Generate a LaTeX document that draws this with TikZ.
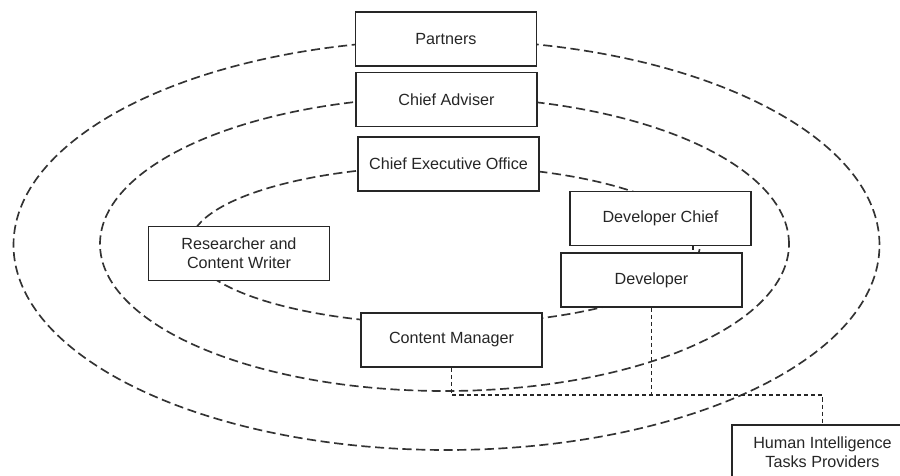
\documentclass[tikz,border=0pt]{standalone}
\usepackage{fontspec}
\setmainfont{Liberation Sans}
\usepackage{xcolor}
\usepackage{tikz}
\usetikzlibrary{positioning}

\begin{document}
\begin{tikzpicture}[
x=1cm,
y=1cm,
every node/.style={font=\fontsize{9.2}{11}\selectfont,text=black!85},
role/.style={rectangle,draw=black!85,line width=0.95pt,fill=white,align=center,inner sep=2pt,minimum width=3.62cm,minimum height=1.08cm},
ring/.style={draw=black!80,line width=0.95pt,dash pattern=on 5.2pt off 2.6pt},
link/.style={draw=black!85,line width=0.85pt,dash pattern=on 2.3pt off 1.7pt}
]
\useasboundingbox (0,0) rectangle (18,9.52);

% the three circles of the organisation
\draw[ring] (8.93,4.62) ellipse [x radius=8.66cm, y radius=4.10cm];
\draw[ring] (8.89,4.64) ellipse [x radius=6.89cm, y radius=2.94cm];
\draw[ring] (8.90,4.62) ellipse [x radius=5.10cm, y radius=1.58cm];

\node[role] (partners) at (8.92,8.74) {Partners};
\node[role] (adviser) at (8.93,7.53) {Chief Adviser};
\node[role] (ceo) at (8.97,6.24) {Chief Executive Office};
\node[role] (devchief) at (13.21,5.15) {Developer Chief};
\node[role] (dev) at (13.03,3.92) {Developer};
\node[role] (writer) at (4.78,4.45) {Researcher and\\Content Writer};
\node[role] (manager) at (9.03,2.72) {Content Manager};
\node[role] (hitp) at (16.45,0.48) {Human Intelligence\\Tasks Providers};

% dotted links to the task providers
\coordinate (jm) at (manager.south |- 0,1.62);
\coordinate (jd) at (dev.south |- 0,1.62);
\coordinate (jh) at (hitp.north |- 0,1.62);
\draw[link] (manager.south) -- (jm) -- (jh) -- (hitp.north);
\draw[link] (dev.south) -- (jd);
\draw[link] (devchief.south -| 13.86,0) -- (dev.north -| 13.86,0);
\end{tikzpicture}
\end{document}
